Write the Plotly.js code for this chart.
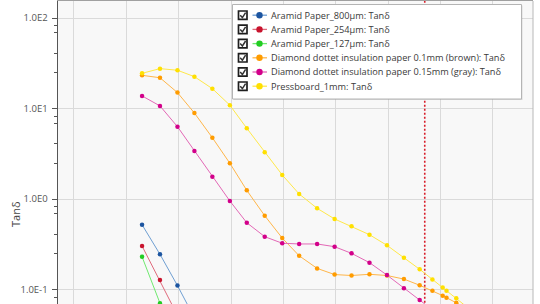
<!DOCTYPE html>
<html>
<head>
<meta charset="utf-8">
<script src="https://cdn.plot.ly/plotly-3.0.1.min.js"></script>
<style>html,body{margin:0;padding:0;background:#fff;overflow:hidden;}#chart{width:540px;height:304px;}</style>
</head>
<body>
<div id="chart"></div>
<script>
// ---- data ----
const freq = [0.0002, 0.00044, 0.00095, 0.002, 0.0044, 0.0095, 0.02, 0.044, 0.095, 0.2, 0.44, 0.95, 2, 4.4, 9.5, 20, 40, 70, 110, 130, 200, 400];
const aramid800 = [0.522, 0.246, 0.111, 0.049];
const aramid254 = [0.304, 0.128, 0.052];
const aramid127 = [0.231, 0.071, 0.03];
const diamond01 = [23.3, 21.9, 15.0, 8.93, 4.77, 2.49, 1.25, 0.656, 0.372, 0.237, 0.172, 0.147, 0.1435, 0.148, 0.1435, 0.131, 0.112, 0.0975, 0.086, 0.0817, 0.0719, 0.058];
const diamond015 = [13.8, 10.7, 6.31, 3.40, 1.77, 0.954, 0.549, 0.385, 0.326, 0.320, 0.320, 0.2985, 0.252, 0.199, 0.145, 0.104, 0.077, 0.06];
const pressboard = [24.5, 27.6, 26.5, 22.5, 16.6, 10.9, 6.06, 3.29, 1.85, 1.14, 0.792, 0.604, 0.501, 0.405, 0.309, 0.226, 0.168, 0.130, 0.106, 0.0975, 0.0804, 0.058];
const markerFreq = [50, 50];
const markerY = [1e-3, 1e3];
const seriesNames = ["Aramid Paper_800µm: Tanδ", "Aramid Paper_254µm: Tanδ", "Aramid Paper_127µm: Tanδ",
  "Diamond dottet insulation paper 0.1mm (brown): Tanδ", "Diamond dottet insulation paper 0.15mm (gray): Tanδ", "Pressboard_1mm: Tanδ"];
const seriesValues = [aramid800, aramid254, aramid127, diamond01, diamond015, pressboard];
const yTickVals = [0.1, 1, 10, 100];
const yTickText = ["1.0E-1", "1.0E0", "1.0E1", "1.0E2"];
const yMinorVals = [];
[0.01, 0.1, 1, 10].forEach(d => [8.2, 6.9, 4.1, 2.5].forEach(m => yMinorVals.push(d * m)));

// ---- styles ----
const markerColors = ["#1c55a0", "#c8142e", "#22cc22", "#ff9c00", "#d2008a", "#ffe000"];
const lineColors = ["#6f9fd2", "#e06a7c", "#6fe86f", "#ffb64a", "#e368b6", "#ffe84a"];

const L = 58, R = 533, T = 1, B = 304;
const xp = px => (px - L) / (R - L);
const yp = py => (B - py) / (B - T);

const traces = [{
  x: markerFreq, y: markerY, mode: 'lines', hoverinfo: 'skip',
  line: {color: '#d81e2a', width: 1.6, dash: '2px,2px'}
}];
seriesValues.forEach((vals, i) => {
  traces.push({
    x: freq.slice(0, vals.length), y: vals, name: seriesNames[i], mode: 'lines+markers',
    line: {color: lineColors[i], width: 1},
    marker: {color: markerColors[i], size: 4.5, symbol: 'circle'}
  });
});

// ---- custom legend ----
const shapes = [];
const annotations = [];
const lgX0 = 232.5, lgX1 = 521.5, lgY0 = 4.5, lgY1 = 99;
shapes.push({type: 'rect', xref: 'paper', yref: 'paper', layer: 'above',
  x0: xp(lgX0 + 1), x1: xp(lgX1 + 1), y0: yp(lgY1 + 1), y1: yp(lgY0 + 1),
  line: {width: 0}, fillcolor: 'rgba(0,0,0,0.12)'});
shapes.push({type: 'rect', xref: 'paper', yref: 'paper', layer: 'above',
  x0: xp(lgX0), x1: xp(lgX1), y0: yp(lgY1), y1: yp(lgY0),
  line: {color: '#b4b4b4', width: 1}, fillcolor: '#ffffff'});
seriesNames.forEach((nm, i) => {
  const cy = 15.2 + i * 14.2;
  shapes.push({type: 'rect', xref: 'paper', yref: 'paper', layer: 'above',
    x0: xp(238.5), x1: xp(247), y0: yp(cy + 4.2), y1: yp(cy - 4.2),
    line: {color: '#1e1e1e', width: 1.7}, fillcolor: '#ffffff'});
  shapes.push({type: 'path', xref: 'paper', yref: 'paper', layer: 'above',
    path: `M${xp(240.2)},${yp(cy)} L${xp(242.4)},${yp(cy + 2.4)} L${xp(245.6)},${yp(cy - 2.6)}`,
    line: {color: '#333', width: 1.5}});
  shapes.push({type: 'line', xref: 'paper', yref: 'paper', layer: 'above',
    x0: xp(252.5), x1: xp(267), y0: yp(cy), y1: yp(cy),
    line: {color: lineColors[i], width: 1.3}});
  shapes.push({type: 'circle', xref: 'paper', yref: 'paper', layer: 'above',
    x0: xp(256.3), x1: xp(262.7), y0: yp(cy + 3.2), y1: yp(cy - 3.2),
    line: {width: 0}, fillcolor: markerColors[i]});
  annotations.push({xref: 'paper', yref: 'paper', x: xp(268.5), y: yp(cy), xanchor: 'left', yanchor: 'middle',
    text: nm, showarrow: false, font: {family: 'Open Sans', size: 9.2, color: '#3a3a3a'}});
});
// right border of plot
shapes.push({type: 'line', xref: 'paper', yref: 'paper', x0: 1, x1: 1, y0: 0, y1: 1,
  line: {color: '#b8b8b8', width: 1}});
// y-axis title
annotations.push({xref: 'paper', yref: 'paper', x: xp(15), y: yp(214), xanchor: 'center', yanchor: 'middle',
  text: 'Tanδ', textangle: -90, showarrow: false, font: {family: 'Open Sans', size: 11, color: '#444'}});

const layout = {
  width: 540, height: 304,
  margin: {l: L, r: 540 - R, t: T, b: 0, pad: 0},
  paper_bgcolor: '#ffffff', plot_bgcolor: '#f8f8f8',
  showlegend: false,
  xaxis: {type: 'log', range: [-5.3036, 3.7658], tickmode: 'linear', tick0: 0, dtick: 1,
    showticklabels: false, ticks: '', gridcolor: '#dadada', gridwidth: 1,
    showline: true, mirror: true, linecolor: '#a0a0a0', linewidth: 1, zeroline: false},
  yaxis: {type: 'log', range: [-1.1578, 2.1877], tickmode: 'array', tickvals: yTickVals, ticktext: yTickText,
    ticks: 'outside', ticklen: 5, tickwidth: 1, tickcolor: '#555',
    showline: true, linecolor: '#555', linewidth: 1.5, gridcolor: '#dadada', gridwidth: 1, zeroline: false,
    tickfont: {family: 'Open Sans', size: 9.5, color: '#555'}, ticklabelstandoff: 2,
    minor: {tickmode: 'array', tickvals: yMinorVals, ticks: 'outside', ticklen: 3, tickwidth: 1, tickcolor: '#555', showgrid: false}},
  shapes: shapes,
  annotations: annotations
};

Plotly.newPlot('chart', traces, layout, {displayModeBar: false, staticPlot: true});
</script>
</body>
</html>
